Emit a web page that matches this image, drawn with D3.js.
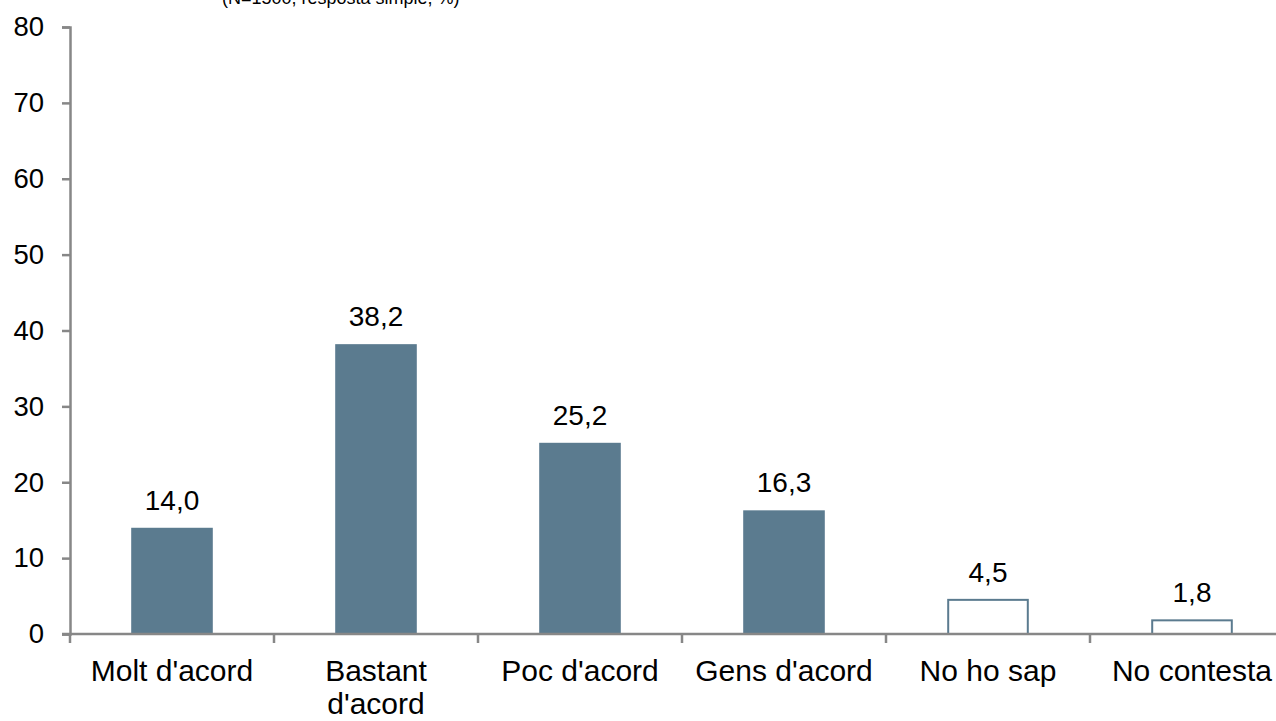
<!DOCTYPE html>
<html><head><meta charset="utf-8">
<script src="https://cdn.jsdelivr.net/npm/d3@7"></script>
<style>html,body{margin:0;padding:0;background:#fff;overflow:hidden}svg{display:block;font-family:"Liberation Sans",Arial,sans-serif}</style>
</head><body>
<svg id="c" width="1276" height="721"></svg>
<script>
const categories = ["Molt d'acord", "Bastant d'acord", "Poc d'acord", "Gens d'acord", "No ho sap", "No contesta"];
const categoryLines = [["Molt d'acord"], ["Bastant", "d'acord"], ["Poc d'acord"], ["Gens d'acord"], ["No ho sap"], ["No contesta"]];
const values = [14.0, 38.2, 25.2, 16.3, 4.5, 1.8];
const outlined = [false, false, false, false, true, true];
const yTicks = [0, 10, 20, 30, 40, 50, 60, 70, 80];
const subtitle = "(N=1500, resposta simple, %)";

const svg = d3.select("#c");
const x0 = 70, x1 = 1294, yTop = 27, yBot = 634;
const x = d3.scaleBand().domain(categories).range([x0, x1]).paddingInner(0.6).paddingOuter(0.3);
const xb = d3.scaleBand().domain(categories).range([x0, x1]);
const y = d3.scaleLinear().domain([0, 80]).range([yBot, yTop]);
const axisColor = "#878787";
const barColor = "#5b7b8f";

svg.append("text").attr("x", 222).attr("y", 4).attr("font-size", 18).attr("fill", "#000").text(subtitle);

// bars
svg.selectAll("rect.bar").data(values).enter().append("rect")
  .attr("x", (d, i) => x(categories[i]) + (outlined[i] ? 1 : 0))
  .attr("y", d => y(d))
  .attr("width", (d, i) => x.bandwidth() - (outlined[i] ? 2 : 0))
  .attr("height", d => yBot - y(d))
  .attr("fill", (d, i) => outlined[i] ? "#fff" : barColor)
  .attr("stroke", (d, i) => outlined[i] ? barColor : "none")
  .attr("stroke-width", 2);

// data labels
svg.selectAll("text.val").data(values).enter().append("text")
  .attr("x", (d, i) => x(categories[i]) + x.bandwidth() / 2)
  .attr("y", d => y(d) - 18)
  .attr("text-anchor", "middle").attr("font-size", 28).attr("fill", "#000")
  .text(d => d.toFixed(1).replace(".", ","));

// y axis
const yAxis = d3.axisLeft(y).tickValues(yTicks).tickSize(8).tickSizeOuter(8).tickPadding(18);
const gy = svg.append("g").attr("transform", `translate(${x0},0)`).call(yAxis);
gy.select(".domain").attr("stroke", axisColor).attr("stroke-width", 2.5);
gy.selectAll(".tick line").attr("stroke", axisColor).attr("stroke-width", 2.5);
gy.selectAll(".tick text").attr("font-size", 27.5).attr("fill", "#000").attr("font-family", "Liberation Sans, Arial, sans-serif");

// x axis
const gx = svg.append("g").attr("transform", `translate(0,${yBot})`);
gx.append("line").attr("x1", x0 - 8).attr("x2", 1276).attr("y1", 0).attr("y2", 0).attr("stroke", axisColor).attr("stroke-width", 2.5);
const tickPos = categories.map(c => xb(c)).concat([x1]);
gx.selectAll("line.t").data(tickPos).enter().append("line")
  .attr("x1", d => d).attr("x2", d => d).attr("y1", 0).attr("y2", 9)
  .attr("stroke", axisColor).attr("stroke-width", 2.5);
categoryLines.forEach((lines, i) => {
  const cx = xb(categories[i]) + xb.bandwidth() / 2;
  const t = gx.append("text").attr("text-anchor", "middle").attr("font-size", 30).attr("fill", "#000")
    .attr("x", cx).attr("y", 47);
  lines.forEach((l, j) => t.append("tspan").attr("x", cx).attr("dy", j ? 33 : 0).text(l));
});
</script>
</body></html>
